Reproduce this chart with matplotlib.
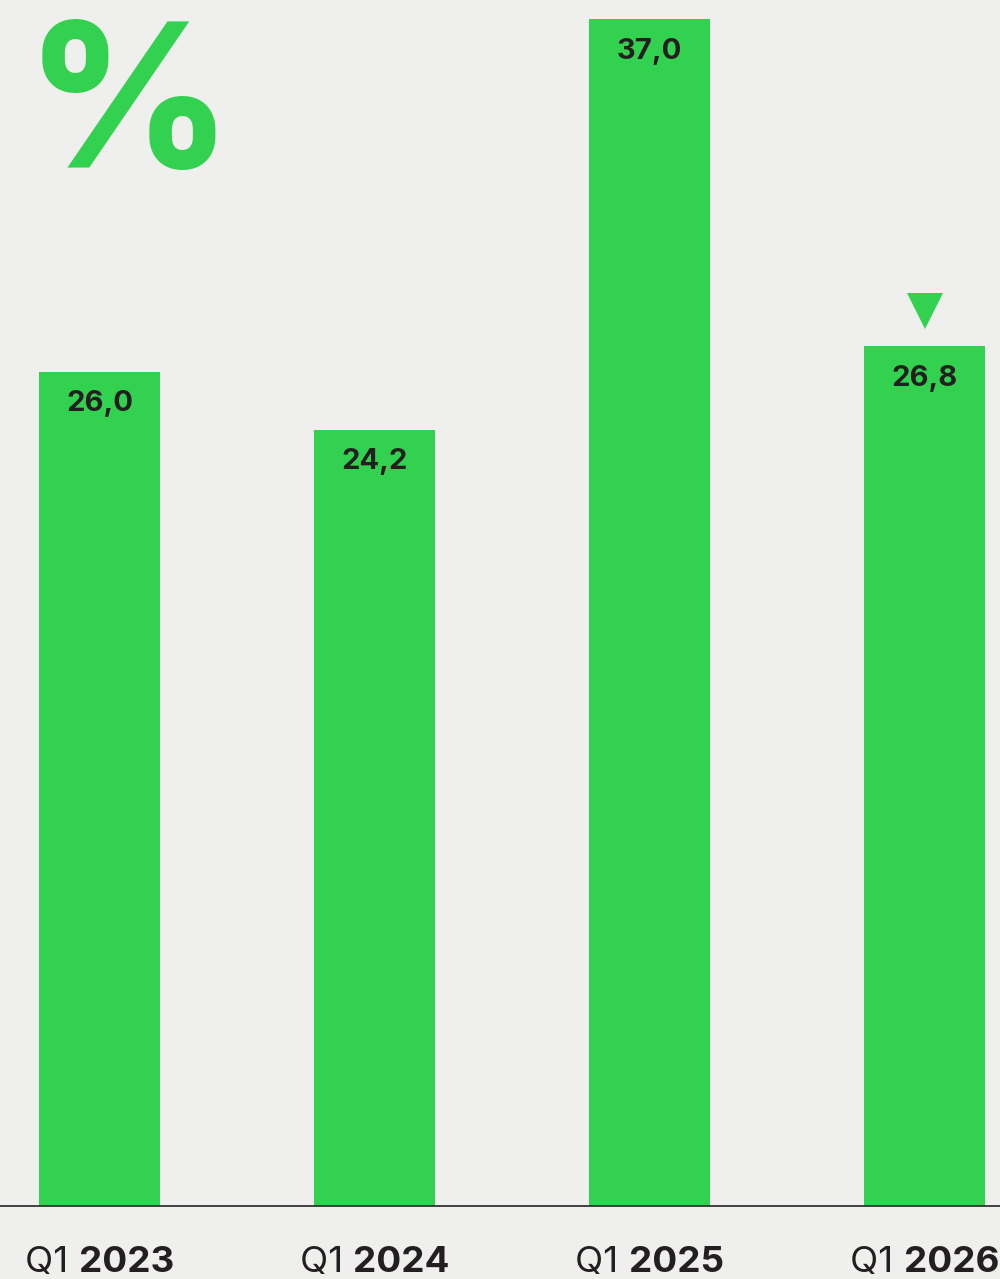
import matplotlib
matplotlib.use("Agg")
import matplotlib.pyplot as plt
from matplotlib.transforms import ScaledTranslation

# Data
quarters = ["Q1", "Q1", "Q1", "Q1"]
years = ["2023", "2024", "2025", "2026"]
values = [26.0, 24.2, 37.0, 26.8]
value_labels = ["26,0", "24,2", "37,0", "26,8"]

GREEN = "#32D250"
BG = "#EFEFED"
INK = "#231F20"
FONT = ["Inter", "DejaVu Sans"]

W, H = 1000, 1279
fig = plt.figure(figsize=(W / 100, H / 100), dpi=100, facecolor=BG)

base_px = 1206  # baseline position from the top
ax = fig.add_axes([0, (H - base_px) / H, 1, base_px / H])
ax.set_facecolor(BG)

step = 275.0
x0 = 99.5
ax.set_xlim(-x0 / step, (W - x0) / step)
ax.set_ylim(0, base_px / 32.08)

xs = list(range(len(values)))
ax.bar(xs, values, width=121 / step, color=GREEN, zorder=2)

for sp in ["top", "right", "left"]:
    ax.spines[sp].set_visible(False)
ax.spines["bottom"].set_color("#333333")
ax.spines["bottom"].set_linewidth(1.3)
ax.set_xticks([])
ax.set_yticks([])

# Value labels inside the bar tops
for x, v, lab in zip(xs, values, value_labels):
    ax.annotate(lab, (x, v), xytext=(0, -32), textcoords="offset pixels",
                ha="center", va="center", fontsize=21, fontweight="bold",
                color=INK, family=FONT)

# Down arrow above the latest bar
ax.plot([xs[-1]], [values[-1]], marker="v", markersize=26, color=GREEN,
        transform=ax.transData + ScaledTranslation(0, 35 / 100, fig.dpi_scale_trans),
        clip_on=False, zorder=3, markeredgewidth=0)

# Category labels: regular quarter + bold year
fig.canvas.draw()
renderer = fig.canvas.get_renderer()
label_y = (H - 1263) / H
for x, q, yr in zip(xs, quarters, years):
    xc = ax.transData.transform((x, 0))[0] / W
    t1 = fig.text(xc, label_y, q + " ", ha="right", va="center", fontsize=26.5,
                  color=INK, family=FONT)
    t2 = fig.text(xc, label_y, yr, ha="left", va="center", fontsize=26.5,
                  fontweight="bold", color=INK, family=FONT)
    w1 = t1.get_window_extent(renderer).width
    w2 = t2.get_window_extent(renderer).width
    shift = (w1 - w2) / 2 / W
    t1.set_x(xc + shift)
    t2.set_x(xc + shift)

# Large percent sign
fig.text(128 / W, 1 - 116 / H, "%", ha="center", va="center", fontsize=144,
         fontweight="heavy", color=GREEN, family=FONT)

fig.savefig("out.png", dpi=100, facecolor=BG)
